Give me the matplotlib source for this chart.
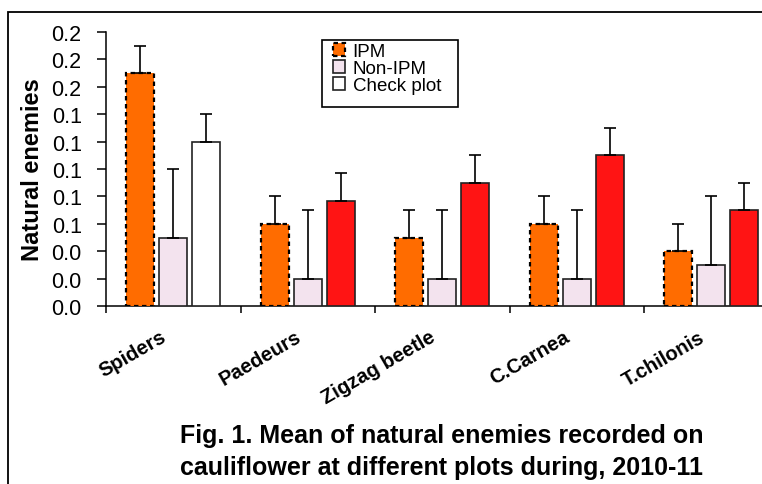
import matplotlib
matplotlib.use("Agg")
import matplotlib.pyplot as plt
import matplotlib.transforms as mtransforms
from matplotlib.patches import Rectangle
from matplotlib.ticker import FormatStrFormatter
import numpy as np

plt.rcParams['font.family'] = ['Liberation Sans', 'DejaVu Sans']

categories = ["Spiders", "Paedeurs", "Zigzag beetle", "C.Carnea", "T.chilonis"]
series_names = ["IPM", "Non-IPM", "Check plot"]
ipm = [0.17, 0.06, 0.05, 0.06, 0.04]
ipm_err = [0.02, 0.02, 0.02, 0.02, 0.02]
non_ipm = [0.05, 0.02, 0.02, 0.02, 0.03]
non_ipm_err = [0.05, 0.05, 0.05, 0.05, 0.05]
check = [0.12, 0.077, 0.09, 0.11, 0.07]
check_err = [0.02, 0.02, 0.02, 0.02, 0.02]
check_colors = ["#FFFFFF", "#FF1414", "#FF1414", "#FF1414", "#FF1414"]
y_ticks = [0.0, 0.02, 0.04, 0.06, 0.08, 0.10, 0.12, 0.14, 0.16, 0.18, 0.20]
caption = ["Fig. 1. Mean of natural enemies recorded on",
           "cauliflower at different plots during, 2010-11"]

W, H = 762, 485
fig = plt.figure(figsize=(W / 100, H / 100), dpi=100)

# outer frame (cropped at right and bottom)
fig.patches.append(Rectangle((8 / W, -0.2), 1.5, 1 - 13 / H + 0.2,
                             transform=fig.transFigure, fill=False,
                             edgecolor='black', linewidth=1.3))

ax_left, ax_bottom = 106 / W, (H - 307) / H
ax_w, ax_h = 672.5 / W, 274 / H
ax = fig.add_axes([ax_left, ax_bottom, ax_w, ax_h])

x = np.arange(len(categories))
bw = 0.208
off = 0.245
ek = dict(ecolor='black', elinewidth=1.2, capsize=4, capthick=1.2)
zeros = [0] * len(categories)

b1 = ax.bar(x - off, ipm, bw, yerr=[zeros, ipm_err], color='#FF6C00',
            edgecolor='black', linewidth=1.6, linestyle=(0, (2, 1.6)),
            error_kw=ek, label=series_names[0], zorder=3)
b2 = ax.bar(x, non_ipm, bw, yerr=[zeros, non_ipm_err], color='#F3E3EE',
            edgecolor='#222222', linewidth=1.2, error_kw=ek,
            label=series_names[1], zorder=3)
b3 = ax.bar(x + off, check, bw, yerr=[zeros, check_err], color=check_colors,
            edgecolor='#222222', linewidth=1.2, error_kw=ek,
            label=series_names[2], zorder=3)

ax.set_xlim(-0.5, len(categories) - 0.5)
ax.set_ylim(0, 0.2)
ax.set_yticks(y_ticks)
ax.yaxis.set_major_formatter(FormatStrFormatter('%.1f'))
ax.tick_params(axis='y', direction='out', length=6.5, width=1.1, pad=11,
               labelsize=15.5)

ax.set_xticks(np.arange(len(categories) + 1) - 0.5)
ax.set_xticklabels([])
ax.tick_params(axis='x', which='major', direction='out', length=5, width=1.1)
ax.set_xticks(x, minor=True)
ax.set_xticklabels(categories, minor=True, rotation=30, ha='right',
                   va='top', rotation_mode='anchor', fontsize=14.5,
                   fontweight='bold')
ax.tick_params(axis='x', which='minor', length=0, pad=0)
offset = mtransforms.ScaledTranslation(-0.13, -0.21, fig.dpi_scale_trans)
for lbl in ax.get_xticklabels(minor=True):
    lbl.set_transform(lbl.get_transform() + offset)

for s in ['top', 'right']:
    ax.spines[s].set_visible(False)
for s in ['left', 'bottom']:
    ax.spines[s].set_linewidth(1.1)

ax.set_ylabel("Natural enemies", fontsize=17, fontweight='bold')
ax.yaxis.set_label_coords(-0.092, 0.5)

# legend box drawn at its reference place, entries placed inside it
box = Rectangle((321.7 / W, 1 - 107.7 / H), 136 / W, 66.7 / H,
                transform=fig.transFigure, facecolor='white',
                edgecolor='black', linewidth=1.2, zorder=8, clip_on=False)
ax.add_artist(box)
leg = ax.legend(loc='upper left', bbox_to_anchor=(333 / W, 1 - 44 / H),
                bbox_transform=fig.transFigure, borderaxespad=0,
                borderpad=0, fontsize=13.5, frameon=False,
                handlelength=0.65, handleheight=0.65, handletextpad=0.4,
                labelspacing=0.0)
leg.set_zorder(10)

fig.text(442 / W, 1 - 436 / H, caption[0], ha='center', va='center',
         fontsize=18, fontweight='bold')
fig.text(442 / W, 1 - 468 / H, caption[1], ha='center', va='center',
         fontsize=18, fontweight='bold')

fig.savefig("out.png", dpi=100)
